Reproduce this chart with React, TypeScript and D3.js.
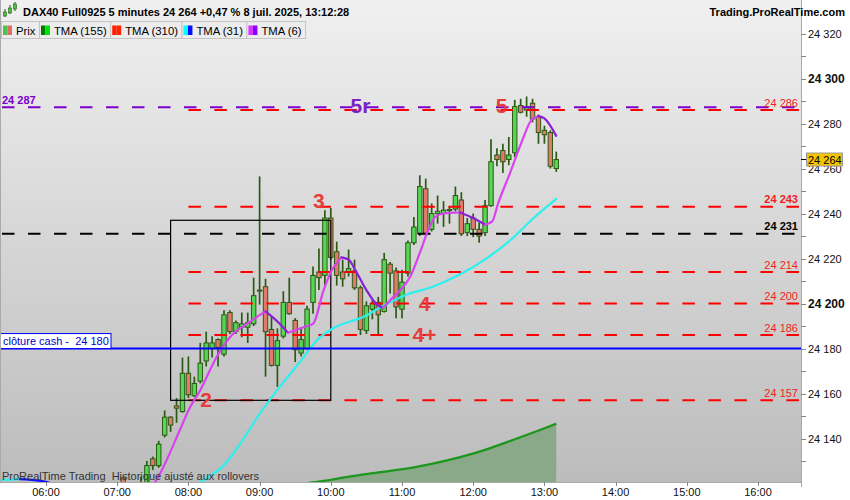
import React, { useEffect, useRef } from 'react';
import * as d3 from 'd3';

// time, open, high, low, close (5 minutes)
type Candle = [string, number, number, number, number];

const candles: Candle[] = [
  ['07:05', 24122.5, 24123, 24110, 24115],
  ['07:10', 24115, 24119, 24108, 24112],
  ['07:15', 24112, 24118, 24106, 24116],
  ['07:20', 24113, 24123, 24110, 24120],
  ['07:25', 24120, 24130, 24117, 24128],
  ['07:30', 24131, 24132, 24126, 24128],
  ['07:35', 24128, 24139, 24127, 24137.5],
  ['07:40', 24141.5, 24152.5, 24140.5, 24149.5],
  ['07:45', 24149.5, 24150, 24143, 24146],
  ['07:50', 24154.5, 24158, 24147, 24153.5],
  ['07:55', 24152, 24176, 24151.5, 24169],
  ['08:00', 24169, 24176.5, 24158, 24159.5],
  ['08:05', 24159, 24167.5, 24158.5, 24164.5],
  ['08:10', 24165.5, 24182.5, 24164.5, 24173.5],
  ['08:15', 24174.5, 24187.5, 24172, 24182.5],
  ['08:20', 24180, 24185.5, 24176, 24182.5],
  ['08:25', 24184, 24184.5, 24172, 24180.5],
  ['08:30', 24177.5, 24197, 24176.5, 24195],
  ['08:35', 24196, 24197, 24186.5, 24187.5],
  ['08:40', 24187.5, 24192.5, 24186.5, 24191.5],
  ['08:45', 24189.5, 24196, 24185, 24191],
  ['08:50', 24189.5, 24196, 24182.5, 24191.5],
  ['08:55', 24191, 24211.5, 24190, 24203.5],
  ['09:00', 24205.5, 24256.5, 24199.5, 24206],
  ['09:05', 24207.5, 24211, 24167.5, 24187.5],
  ['09:10', 24188.5, 24194, 24172, 24172.5],
  ['09:15', 24172.5, 24189, 24163, 24183.5],
  ['09:20', 24185.5, 24205.5, 24184.5, 24200.5],
  ['09:25', 24200.5, 24211.5, 24195, 24195.5],
  ['09:30', 24192.5, 24193.5, 24174, 24179.5],
  ['09:35', 24178, 24189.5, 24176.5, 24184],
  ['09:40', 24180, 24199, 24179.5, 24197.5],
  ['09:45', 24200.5, 24216.5, 24195.5, 24212.5],
  ['09:50', 24214, 24224.5, 24206, 24211.5],
  ['09:55', 24212.5, 24241.5, 24208, 24238],
  ['10:00', 24238, 24242.5, 24219.5, 24220.5],
  ['10:05', 24223, 24227.5, 24208, 24212.5],
  ['10:10', 24214, 24219.5, 24207.5, 24211],
  ['10:15', 24214, 24224, 24212, 24215.5],
  ['10:20', 24214.5, 24219.5, 24206, 24207],
  ['10:25', 24207, 24208, 24186, 24188.5],
  ['10:30', 24188, 24201, 24186.5, 24199],
  ['10:35', 24197.5, 24201.5, 24193, 24200],
  ['10:40', 24200.5, 24203, 24186, 24195],
  ['10:45', 24196.5, 24222.5, 24196, 24219.5],
  ['10:50', 24217.5, 24218.5, 24204.5, 24213.5],
  ['10:55', 24214.5, 24216, 24193.5, 24198.5],
  ['11:00', 24197.5, 24215, 24193.5, 24209.5],
  ['11:05', 24213.5, 24228, 24212, 24227],
  ['11:10', 24227, 24238.5, 24226, 24234],
  ['11:15', 24231, 24257, 24230, 24252],
  ['11:20', 24251, 24255.5, 24230, 24231],
  ['11:25', 24233, 24244.5, 24232, 24240],
  ['11:30', 24240, 24248, 24235.5, 24241],
  ['11:35', 24240, 24245.5, 24234, 24241.5],
  ['11:40', 24241.3, 24243, 24235.5, 24241.8],
  ['11:45', 24242, 24252, 24241, 24248],
  ['11:50', 24246, 24249.5, 24230, 24231],
  ['11:55', 24231.5, 24238, 24230, 24235.5],
  ['12:00', 24238, 24240, 24229.5, 24233],
  ['12:05', 24233, 24236, 24227, 24230],
  ['12:10', 24231.5, 24246, 24230, 24243.5],
  ['12:15', 24243.5, 24273, 24243, 24263],
  ['12:20', 24266, 24269, 24261, 24264],
  ['12:25', 24268, 24271, 24258, 24263],
  ['12:30', 24264, 24274, 24261.5, 24266],
  ['12:35', 24267, 24290.5, 24265, 24287.5],
  ['12:40', 24288, 24291, 24284.5, 24285],
  ['12:45', 24286, 24292, 24283, 24287.5],
  ['12:50', 24289, 24291, 24280.5, 24282],
  ['12:55', 24283, 24284, 24271, 24276],
  ['13:00', 24277, 24279, 24271, 24275],
  ['13:05', 24276, 24277, 24260, 24261],
  ['13:10', 24260, 24267.5, 24258.5, 24264],
];

const tma6: [string, number][] = [
  ['07:10', 24110], ['07:33', 24121.5], ['07:53', 24144], ['08:00', 24152.5],
  ['08:10', 24161.5], ['08:24', 24176.5], ['08:35', 24185], ['08:52', 24192],
  ['09:05', 24196.5], ['09:15', 24192], ['09:24', 24187], ['09:37', 24189.5],
  ['09:45', 24191], ['09:54', 24206], ['10:01', 24215], ['10:09', 24220.5],
  ['10:15', 24219.5], ['10:22', 24213.5], ['10:30', 24206], ['10:39', 24199.5],
  ['10:44', 24198], ['10:50', 24201.5], ['10:57', 24205], ['11:07', 24212],
  ['11:15', 24222.5], ['11:22', 24232.5], ['11:28', 24238.5], ['11:35', 24240],
  ['11:49', 24240.5], ['12:00', 24238], ['12:10', 24235], ['12:16', 24236.5],
  ['12:21', 24244.5], ['12:31', 24258], ['12:41', 24272], ['12:49', 24281.5],
  ['12:55', 24283.3], ['13:00', 24282.3], ['13:10', 24274.5],
];

const tma31: [string, number][] = [
  ['05:20', 24121.5], ['05:38', 24122], ['06:00', 24120.8], ['06:20', 24116],
  ['06:50', 24110], ['07:20', 24108], ['07:50', 24114], ['08:13', 24121.6],
  ['08:30', 24128.2], ['08:44', 24138], ['09:00', 24151], ['09:20', 24165],
  ['09:34', 24174], ['09:48', 24183.5], ['10:02', 24189], ['10:16', 24192],
  ['10:25', 24193.5], ['10:41', 24198], ['11:04', 24204], ['11:26', 24207.5],
  ['11:49', 24213], ['12:11', 24220], ['12:31', 24228], ['12:51', 24238],
  ['13:10', 24246.5],
];

const tma155: [string, number][] = [
  ['09:00', 24116], ['09:44', 24120.5], ['09:59', 24121.6], ['10:13', 24122.9],
  ['10:42', 24125.1], ['11:10', 24127.2], ['11:38', 24130.3], ['12:06', 24134.3],
  ['12:34', 24139.5], ['12:59', 24144.4], ['13:10', 24146.6],
];

// red support / resistance levels drawn from 08:00
const redLevels = [24286, 24243, 24214, 24200, 24186, 24157];
const boldRedLevels = [24243];
const blackLevel = 24231;
const purpleLevel = 24287;
const cashClose = 24180;
const lastPrice = 24264;

// box: 07:45 -> 10:00, 24157 -> 24237
const boxTimes = ['07:45', '10:00'];
const boxPrices = [24157, 24237];

const waveLabels = [
  { text: '2', time: '08:15', price: 24154, purple: false },
  { text: '3', time: '09:50', price: 24242.5, purple: false },
  { text: '5r', time: '10:25', price: 24284.7, purple: true },
  { text: '4', time: '11:19', price: 24196.5, purple: false },
  { text: '4+', time: '11:19', price: 24183, purple: false },
  { text: '5', time: '12:24', price: 24284.7, purple: false },
];

const hourTicks = ['06:00', '07:00', '08:00', '09:00', '10:00', '11:00', '12:00', '13:00', '14:00', '15:00', '16:00'];

const legendItems = [
  { label: 'Prix', colors: ['#4cc24c', '#e46a6a'] },
  { label: 'TMA (155)', colors: ['#007a00', '#00e000'] },
  { label: 'TMA (310)', colors: ['#ff2200', '#ff2200'] },
  { label: 'TMA (31)', colors: ['#00ffff', '#0010ff'] },
  { label: 'TMA (6)', colors: ['#dd33ff', '#8800ff'] },
];

const title = 'DAX40 Full0925 5 minutes 24 264 +0,47 % 8 juil. 2025, 13:12:28';

const toMin = (s: string) => {
  const [h, m] = s.split(':').map(Number);
  return h * 60 + m;
};

const FONT = '"Liberation Sans", Arial, sans-serif';

const App: React.FC = () => {
  const svgRef = useRef<SVGSVGElement>(null);

  useEffect(() => {
    if (!svgRef.current) return;
    document.body.style.margin = '0';

    const W = 850;
    const H = 500;
    const plotRight = 801;
    const plotBottom = 482;

    const svg = d3.select(svgRef.current).attr('width', W).attr('height', H);
    svg.selectAll('*').remove();

    const locale = d3.formatLocale({ decimal: ',', thousands: ' ', grouping: [3], currency: ['', ''] });
    const fmt = locale.format(',d');

    const x = d3.scaleLinear().domain([360, 960]).range([46, 758]);
    const y = d3.scaleLinear().domain([24120.7, 24326]).range([plotBottom, 20]);

    const defs = svg.append('defs');
    const grad = defs.append('linearGradient').attr('id', 'bg').attr('x1', 0).attr('x2', 0).attr('y1', 0).attr('y2', 1);
    grad.append('stop').attr('offset', '0%').attr('stop-color', '#f0f0f0');
    grad.append('stop').attr('offset', '100%').attr('stop-color', '#bcbcbc');
    defs.append('clipPath').attr('id', 'plot')
      .append('rect').attr('x', 1).attr('y', 0).attr('width', plotRight - 1).attr('height', plotBottom);

    svg.append('rect').attr('width', W).attr('height', H).attr('fill', '#fff');
    svg.append('rect').attr('x', 0).attr('y', 0).attr('width', plotRight).attr('height', plotBottom).attr('fill', 'url(#bg)');

    const g = svg.append('g').attr('clip-path', 'url(#plot)');

    // TMA 155 area
    const t155 = tma155.map(([t, v]) => [x(toMin(t)), y(v)] as [number, number]);
    g.append('path')
      .datum(t155)
      .attr('fill', '#8aa988')
      .attr('d', d3.area<[number, number]>().x(d => d[0]).y0(plotBottom).y1(d => d[1]).curve(d3.curveMonotoneX));
    g.append('path')
      .datum(t155)
      .attr('fill', 'none')
      .attr('stroke', '#1c961c')
      .attr('stroke-width', 2.2)
      .attr('d', d3.line<[number, number]>().x(d => d[0]).y(d => d[1]).curve(d3.curveMonotoneX));

    // candles
    const bw = 4.4;
    const cg = g.append('g');
    candles.forEach(([t, o, h, l, c]) => {
      const cx = x(toMin(t));
      cg.append('line')
        .attr('x1', cx).attr('x2', cx).attr('y1', y(h)).attr('y2', y(l))
        .attr('stroke', '#2c5a14').attr('stroke-width', 1.7);
      const top = y(Math.max(o, c));
      const bh = Math.max(1, y(Math.min(o, c)) - top);
      cg.append('rect')
        .attr('x', cx - bw / 2).attr('y', top).attr('width', bw).attr('height', bh)
        .attr('fill', c >= o ? '#55d655' : '#e07a6a')
        .attr('stroke', '#2c5a14').attr('stroke-width', 1);
    });

    // horizontal levels
    const dashed = (v: number, x0: number, color: string, dy = 0) =>
      g.append('line')
        .attr('x1', x0).attr('x2', plotRight).attr('y1', y(v) + dy).attr('y2', y(v) + dy)
        .attr('stroke', color).attr('stroke-width', 2)
        .attr('stroke-dasharray', '12.5,13.5');

    dashed(blackLevel, 2, '#000');
    redLevels.forEach(v => dashed(v, x(toMin('08:00')), '#ff0000'));
    dashed(purpleLevel, 2, '#7a00cc', -0.5);

    // box
    g.append('rect')
      .attr('x', x(toMin(boxTimes[0]))).attr('y', y(boxPrices[1]))
      .attr('width', x(toMin(boxTimes[1])) - x(toMin(boxTimes[0])))
      .attr('height', y(boxPrices[0]) - y(boxPrices[1]))
      .attr('fill', 'none').attr('stroke', '#000').attr('stroke-width', 1.2);

    // coloured TMA lines: split into rising / falling runs
    const drawTma = (pts: [string, number][], up: string, down: string, width: number) => {
      const p = pts.map(([t, v]) => [x(toMin(t)), y(v)] as [number, number]);
      let run: [number, number][] = [p[0]];
      let rising = pts[1][1] >= pts[0][1];
      const flush = () => {
        g.append('path').datum(run)
          .attr('fill', 'none').attr('stroke', rising ? up : down).attr('stroke-width', width)
          .attr('stroke-linecap', 'round')
          .attr('d', d3.line<[number, number]>().x(d => d[0]).y(d => d[1]).curve(d3.curveMonotoneX));
      };
      for (let i = 1; i < p.length; i++) {
        const r = pts[i][1] >= pts[i - 1][1];
        if (r !== rising) {
          flush();
          run = [p[i - 1]];
          rising = r;
        }
        run.push(p[i]);
      }
      flush();
    };
    drawTma(tma31, '#2cf0f0', '#1010ff', 2.2);
    drawTma(tma6, '#d744ee', '#8a1fd6', 2.2);

    // wave labels
    waveLabels.forEach(w => {
      g.append('text')
        .attr('x', x(toMin(w.time))).attr('y', y(w.price))
        .attr('text-anchor', 'middle')
        .attr('font-family', FONT).attr('font-weight', 'bold').attr('font-size', 21)
        .attr('fill', w.purple ? '#7b22c4' : '#e63c3c')
        .text(w.text);
    });

    // level labels
    const lvlLabel = (v: number, color: string, bold: boolean) =>
      g.append('text')
        .attr('x', 798).attr('y', y(v) - 3.5)
        .attr('text-anchor', 'end')
        .attr('font-family', FONT).attr('font-size', 11)
        .attr('font-weight', bold ? 'bold' : 'normal')
        .attr('fill', color)
        .text(fmt(v));
    redLevels.forEach(v => lvlLabel(v, '#f01e1e', boldRedLevels.includes(v)));
    lvlLabel(blackLevel, '#000', true);

    g.append('text')
      .attr('x', 2).attr('y', y(purpleLevel) - 3.5)
      .attr('font-family', FONT).attr('font-size', 11).attr('font-weight', 'bold')
      .attr('fill', '#7a00cc')
      .text(fmt(purpleLevel));

    // cash close line
    g.append('line')
      .attr('x1', 0).attr('x2', plotRight).attr('y1', y(cashClose)).attr('y2', y(cashClose))
      .attr('stroke', '#0000ff').attr('stroke-width', 2);
    g.append('rect')
      .attr('x', 0.5).attr('y', y(cashClose) - 15).attr('width', 110.5).attr('height', 15)
      .attr('fill', '#fff').attr('stroke', '#0000ff').attr('stroke-width', 1);
    g.append('text')
      .attr('x', 3).attr('y', y(cashClose) - 3.5)
      .attr('font-family', FONT).attr('font-size', 11).attr('fill', '#0000cc')
      .style('white-space', 'pre')
      .text(`clôture cash -  ${fmt(cashClose)}`);

    g.append('text')
      .attr('x', 2).attr('y', 480)
      .attr('font-family', FONT).attr('font-size', 11).attr('fill', '#333')
      .style('white-space', 'pre')
      .text('ProRealTime Trading  Historique ajusté aux rollovers');

    // frame lines
    svg.append('line').attr('x1', 0.5).attr('x2', 0.5).attr('y1', 0).attr('y2', plotBottom).attr('stroke', '#aaa');
    svg.append('line').attr('x1', plotRight + 0.5).attr('x2', plotRight + 0.5).attr('y1', 0).attr('y2', plotBottom + 5).attr('stroke', '#aaa');
    svg.append('line').attr('x1', 0).attr('x2', plotRight).attr('y1', plotBottom + 0.5).attr('y2', plotBottom + 0.5).attr('stroke', '#aaa');

    // y axis
    const ya = svg.append('g').attr('font-family', FONT);
    d3.range(24130, 24330, 10).forEach(v => {
      const yy = Math.round(y(v)) + 0.5;
      ya.append('line').attr('x1', plotRight).attr('x2', plotRight + 5).attr('y1', yy).attr('y2', yy).attr('stroke', '#888');
      if (v % 20 === 0) {
        ya.append('text')
          .attr('x', 808).attr('y', y(v) + 4)
          .attr('font-size', v % 100 === 0 ? 12 : 11)
          .attr('font-weight', v % 100 === 0 ? 'bold' : 'normal')
          .attr('fill', '#111')
          .text(fmt(v));
      }
    });
    ya.append('line').attr('x1', plotRight).attr('x2', plotRight + 6).attr('y1', y(lastPrice)).attr('y2', y(lastPrice)).attr('stroke', '#000');
    ya.append('rect')
      .attr('x', 806.5).attr('y', y(lastPrice) - 6.5).attr('width', 36).attr('height', 13)
      .attr('fill', '#f5c400').attr('stroke', '#999');
    ya.append('text')
      .attr('x', 808).attr('y', y(lastPrice) + 4)
      .attr('font-size', 11).attr('fill', '#000')
      .text(fmt(lastPrice));

    // x axis
    const xa = svg.append('g').attr('font-family', FONT);
    hourTicks.forEach(t => {
      const xx = Math.round(x(toMin(t))) + 0.5;
      xa.append('line').attr('x1', xx).attr('x2', xx).attr('y1', plotBottom).attr('y2', plotBottom + 4).attr('stroke', '#888');
      xa.append('text')
        .attr('x', x(toMin(t))).attr('y', 496)
        .attr('text-anchor', 'middle').attr('font-size', 11).attr('fill', '#111')
        .text(t);
    });

    // header
    const hd = svg.append('g').attr('font-family', FONT);
    [[5, 12, 16, 9, 17], [10, 8, 13, 5, 14], [15, 4, 9, 2, 11]].forEach(([cx, t, b, h, l]) => {
      hd.append('line').attr('x1', cx).attr('x2', cx).attr('y1', h).attr('y2', l).attr('stroke', '#2c5a14');
      hd.append('rect').attr('x', cx - 1.5).attr('y', t).attr('width', 3).attr('height', b - t).attr('fill', '#4cc24c').attr('stroke', '#2c5a14').attr('stroke-width', 0.6);
    });
    hd.append('text').attr('x', 23).attr('y', 15.5)
      .attr('font-size', 11).attr('font-weight', 'bold').attr('fill', '#000').text(title);
    hd.append('text').attr('x', 845).attr('y', 15.5).attr('text-anchor', 'end')
      .attr('font-size', 11).attr('font-weight', 'bold').attr('fill', '#000').text('Trading.ProRealTime.com');

    // legend boxes, laid out from the label widths
    let lx = 1.5;
    legendItems.forEach(item => {
      const box = hd.append('g');
      const rect = box.append('rect').attr('x', lx).attr('y', 21.5).attr('height', 17)
        .attr('fill', '#ececec').attr('stroke', '#c4c4c4');
      box.append('rect').attr('x', lx + 1.5).attr('y', 25.5).attr('width', 4.5).attr('height', 9.5).attr('fill', item.colors[0]);
      box.append('rect').attr('x', lx + 6).attr('y', 25.5).attr('width', 4.5).attr('height', 9.5).attr('fill', item.colors[1]);
      const txt = box.append('text').attr('x', lx + 14.5).attr('y', 34.5)
        .attr('font-size', 11.3).attr('fill', '#000').text(item.label);
      const len = (txt.node() as SVGTextElement).getComputedTextLength();
      const w = 14.5 + len + 4;
      rect.attr('width', w);
      lx += w;
    });
  }, []);

  return <svg ref={svgRef} style={{ display: 'block' }}></svg>;
};

export default App;
